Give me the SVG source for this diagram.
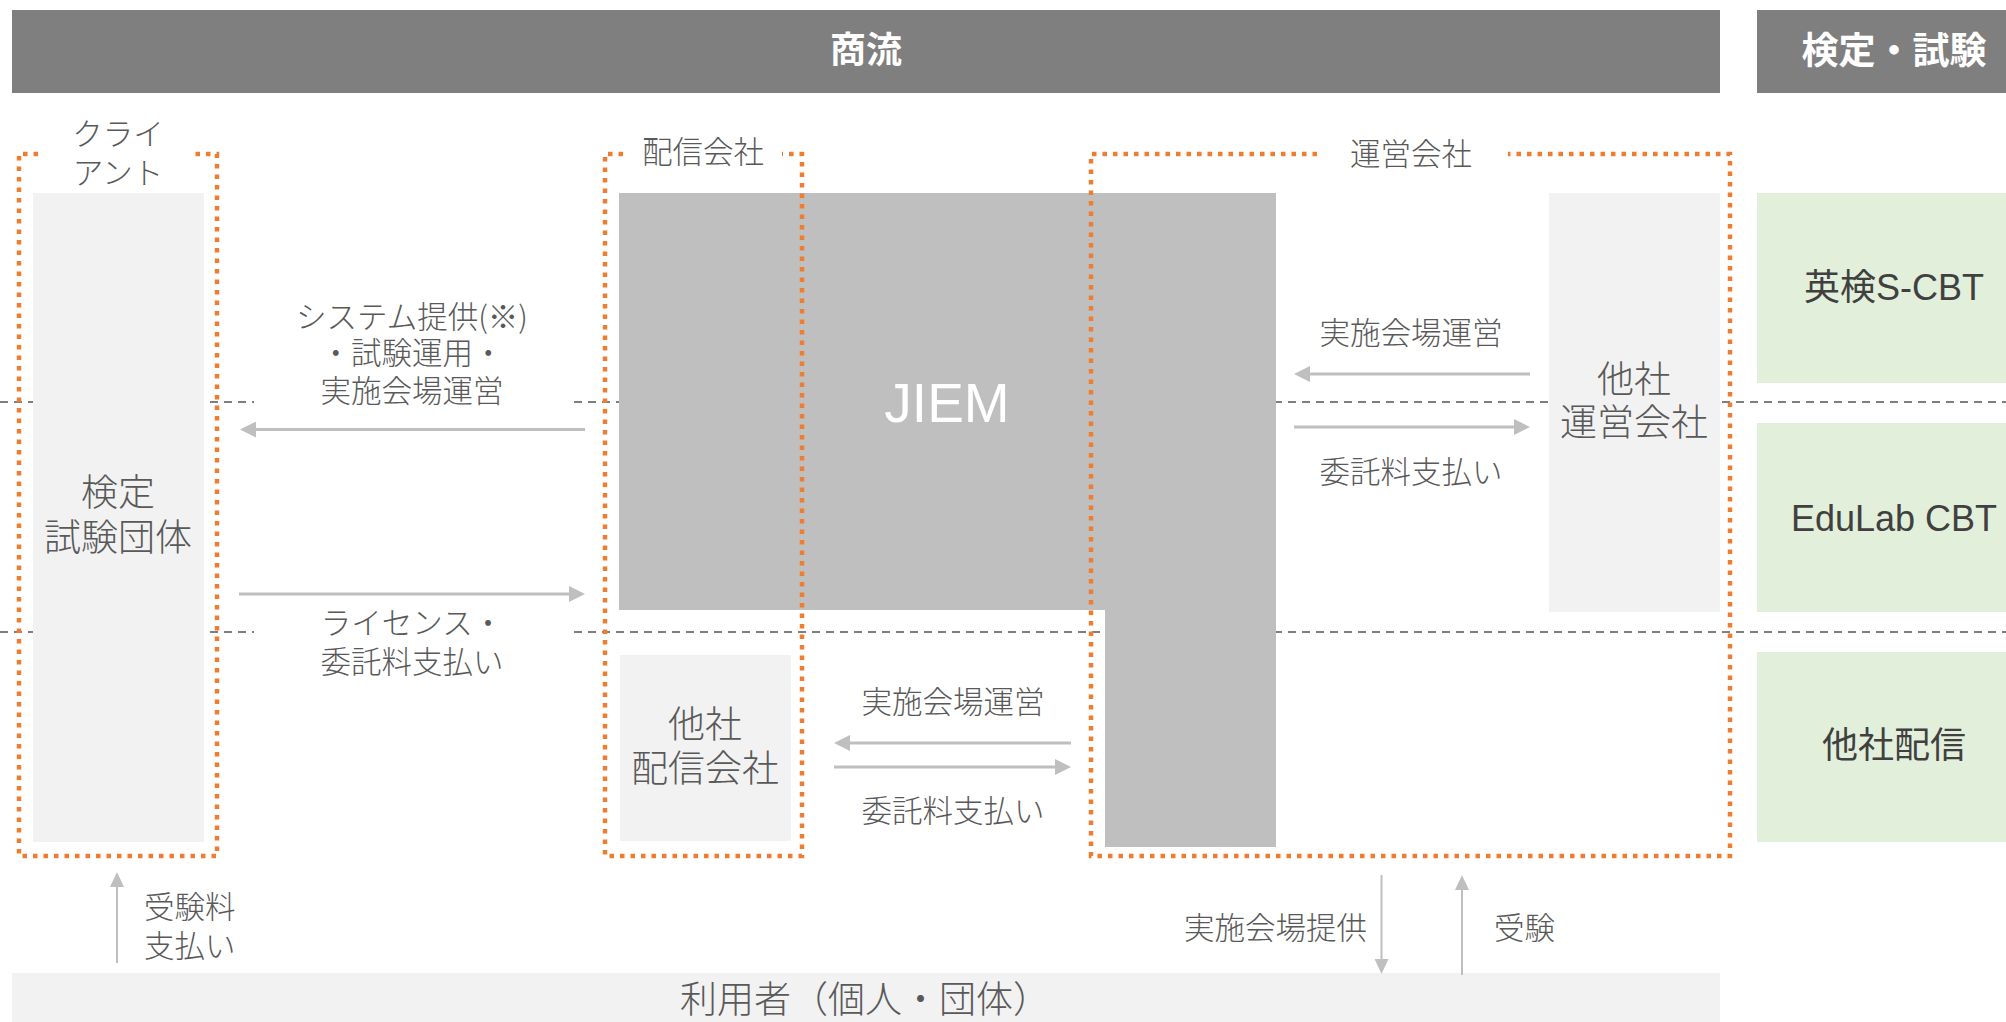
<svg xmlns="http://www.w3.org/2000/svg" width="2006" height="1022" viewBox="0 0 2006 1022">
<style>
.hdr{fill:#7f7f7f}
.hdrt{fill:#ffffff;font-family:"Noto Sans CJK JP","Noto Sans",sans-serif;font-weight:700;text-anchor:middle}
.lt{fill:#f2f2f2}
.gr{fill:#bfbfbf}
.green{fill:#e2efda}
.orange{fill:none;stroke:#ed7d31;stroke-width:4.5;stroke-dasharray:4.5 6}
.dash{stroke:#7f7f7f;stroke-width:2;stroke-dasharray:8 6;fill:none}
.lbl{fill:#595959;font-family:"Noto Sans CJK JP","Noto Sans",sans-serif;font-weight:300;font-size:30.5px;text-anchor:middle}
.node{fill:#595959;font-family:"Noto Sans CJK JP","Noto Sans",sans-serif;font-weight:300;font-size:37px;text-anchor:middle}
.gt{fill:#404040;font-family:"Liberation Sans","Noto Sans CJK JP",sans-serif;font-size:36px;text-anchor:middle}
.arr{stroke:#bfbfbf;stroke-width:3;fill:none}
.varr{stroke:#bfbfbf;stroke-width:2;fill:none}
.wbg{fill:#ffffff}
</style>
<defs>
<marker id="ah" markerUnits="userSpaceOnUse" markerWidth="16" markerHeight="16" refX="0" refY="8" orient="auto"><path d="M0,0 L16,8 L0,16 z" fill="#bfbfbf"/></marker>
<marker id="ahs" markerUnits="userSpaceOnUse" markerWidth="15" markerHeight="14" refX="0" refY="7" orient="auto"><path d="M0,0 L15,7 L0,14 z" fill="#bfbfbf"/></marker>
</defs>

<g id="headers">
<rect class="hdr" x="12" y="10" width="1708" height="83"/>
<text class="hdrt" x="866" y="63" font-size="36">商流</text>
<rect class="hdr" x="1757" y="10" width="274" height="83"/>
<text class="hdrt" x="1894" y="64" font-size="37">検定・試験</text>
</g>

<g id="gridlines">
<line class="dash" x1="0" y1="402" x2="2006" y2="402"/>
<line class="dash" x1="0" y1="632" x2="2006" y2="632"/>
</g>

<g id="client">
<rect class="lt" x="33" y="193" width="171" height="649"/>
<text class="node" x="118" y="506">検定</text>
<text class="node" x="118" y="551">試験団体</text>
</g>

<g id="jiem">
<path class="gr" d="M619,193 H1276 V847 H1105 V610 H619 Z"/>
<text x="947" y="422" fill="#ffffff" font-family="Liberation Sans, Arial, sans-serif" font-size="55" text-anchor="middle">JIEM</text>
</g>

<g id="other-operator">
<rect class="lt" x="1549" y="193" width="171" height="419"/>
<text class="node" x="1634" y="393">他社</text>
<text class="node" x="1634" y="436">運営会社</text>
</g>

<g id="other-distributor">
<rect class="lt" x="620" y="655" width="171" height="186"/>
<text class="node" x="705" y="738">他社</text>
<text class="node" x="705" y="782">配信会社</text>
</g>

<g id="eiken-scbt">
<rect class="green" x="1757" y="193" width="274" height="190"/>
<text class="gt" x="1894" y="300">英検S-CBT</text>
</g>
<g id="edulab-cbt">
<rect class="green" x="1757" y="423" width="274" height="189"/>
<text class="gt" x="1894" y="531">EduLab CBT</text>
</g>
<g id="other-delivery">
<rect class="green" x="1757" y="652" width="274" height="190"/>
<text class="gt" x="1894" y="758">他社配信</text>
</g>

<g id="users">
<rect class="lt" x="12" y="973" width="1708" height="60"/>
<text class="node" x="865" y="1013">利用者（個人・団体）</text>
</g>

<g id="groups">
<path class="orange" d="M38,154 H19 V856 H217 V154 H195"/>
<text class="lbl" x="118" y="145">クライ</text>
<text class="lbl" x="118" y="184">アント</text>
<path class="orange" d="M623,154 H605 V856 H802 V154 H782"/>
<text class="lbl" x="703" y="163">配信会社</text>
<path class="orange" d="M1317,154 H1091 V856 H1730 V154 H1508"/>
<text class="lbl" x="1411" y="165">運営会社</text>
</g>

<g id="connectors">
<rect class="wbg" x="254" y="290" width="315" height="125"/>
<rect class="wbg" x="254" y="605" width="315" height="75"/>
<line class="arr" x1="585" y1="429.5" x2="256" y2="429.5" marker-end="url(#ah)"/>
<text class="lbl" x="412" y="328">システム提供(※)</text>
<text class="lbl" x="412" y="364">・試験運用・</text>
<text class="lbl" x="412" y="402">実施会場運営</text>
<line class="arr" x1="239" y1="594" x2="569" y2="594" marker-end="url(#ah)"/>
<text class="lbl" x="412" y="634">ライセンス・</text>
<text class="lbl" x="412" y="673">委託料支払い</text>

<line class="arr" x1="1071" y1="743" x2="850" y2="743" marker-end="url(#ah)"/>
<line class="arr" x1="834" y1="767" x2="1055" y2="767" marker-end="url(#ah)"/>
<text class="lbl" x="953" y="713">実施会場運営</text>
<text class="lbl" x="953" y="822">委託料支払い</text>

<line class="arr" x1="1530" y1="374" x2="1310" y2="374" marker-end="url(#ah)"/>
<line class="arr" x1="1294" y1="427" x2="1514" y2="427" marker-end="url(#ah)"/>
<text class="lbl" x="1411" y="344">実施会場運営</text>
<text class="lbl" x="1411" y="483">委託料支払い</text>

<line class="varr" x1="117" y1="963" x2="117" y2="887" marker-end="url(#ahs)"/>
<text class="lbl" x="144" y="918" style="text-anchor:start">受験料</text>
<text class="lbl" x="144" y="957" style="text-anchor:start">支払い</text>

<line class="varr" x1="1381.5" y1="875" x2="1381.5" y2="959" marker-end="url(#ahs)"/>
<text class="lbl" x="1367" y="939" style="text-anchor:end">実施会場提供</text>
<line class="varr" x1="1462" y1="975" x2="1462" y2="890" marker-end="url(#ahs)"/>
<text class="lbl" x="1494" y="939" style="text-anchor:start">受験</text>
</g>
</svg>
